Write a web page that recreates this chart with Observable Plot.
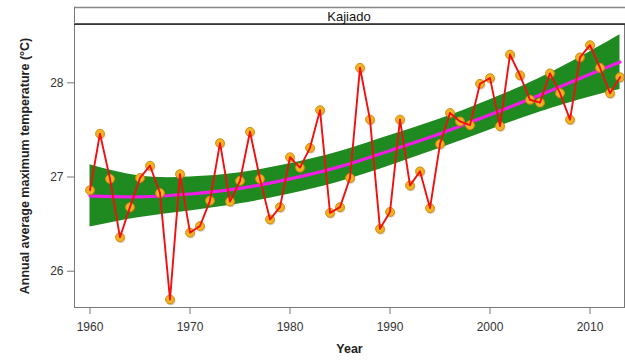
<!DOCTYPE html>
<html>
<head>
<meta charset="utf-8">
<script src="https://cdn.jsdelivr.net/npm/d3@7"></script>
<script src="https://cdn.jsdelivr.net/npm/@observablehq/plot@0.6"></script>
<style>
  html, body { margin: 0; padding: 0; background: #fff; }
  svg { display: block; }
</style>
</head>
<body>
<div id="chart"></div>
<script>
const panelTitle = "Kajiado";
const years = [1960,1961,1962,1963,1964,1965,1966,1967,1968,1969,
               1970,1971,1972,1973,1974,1975,1976,1977,1978,1979,
               1980,1981,1982,1983,1984,1985,1986,1987,1988,1989,
               1990,1991,1992,1993,1994,1995,1996,1997,1998,1999,
               2000,2001,2002,2003,2004,2005,2006,2007,2008,2009,
               2010,2011,2012,2013];
const tmax = [26.86,27.46,26.98,26.36,26.68,26.99,27.12,26.83,25.70,27.03,
              26.41,26.48,26.75,27.36,26.74,26.96,27.48,26.98,26.55,26.68,
              27.21,27.10,27.31,27.71,26.62,26.68,26.99,28.16,27.61,26.45,
              26.63,27.61,26.91,27.06,26.67,27.35,27.68,27.59,27.55,27.99,
              28.05,27.54,28.30,28.08,27.82,27.79,28.10,27.89,27.61,28.27,
              28.40,28.16,27.89,28.06];
const fitYears = [1960,1965,1970,1975,1980,1985,1990,1995,2000,2005,2010,2013];
const fitValue = [26.80,26.79,26.82,26.88,26.98,27.11,27.28,27.46,27.66,27.87,28.09,28.22];
const fitLower = [26.47,26.57,26.64,26.715,26.82,26.95,27.12,27.305,27.50,27.69,27.85,27.93];
const fitUpper = [27.13,27.01,27.00,27.045,27.14,27.27,27.44,27.615,27.82,28.05,28.33,28.51];
const xTicks = [1960,1970,1980,1990,2000,2010];
const yTicks = [26,27,28];

const obs = years.map((y, i) => ({year: y, t: tmax[i]}));
const fit = fitYears.map((y, i) => ({year: y, fit: fitValue[i], lo: fitLower[i], hi: fitUpper[i]}));

const W = 625, H = 361, mL = 74, mR = 1, mT = 24, mB = 54;

const chart = Plot.plot({
  width: W, height: H,
  marginLeft: mL, marginRight: mR, marginTop: mT, marginBottom: mB,
  style: {fontFamily: "'Liberation Sans', Arial, sans-serif", background: "#fff", overflow: "visible"},
  x: {domain: [1958.45, 2013.45], ticks: xTicks, tickFormat: d => String(d), label: null},
  y: {domain: [25.615, 28.619], ticks: yTicks, tickFormat: d => String(d), label: null},
  marks: [
    Plot.areaY(fit, {x: "year", y1: "lo", y2: "hi", fill: "#1f8a1f", curve: "natural"}),
    Plot.lineY(fit, {x: "year", y: "fit", stroke: "#ee1ee6", strokeWidth: 3.2, curve: "natural"}),
    Plot.dot(obs, {x: "year", y: "t", r: 4.6, fill: "#8a6a30", fillOpacity: 0.35, dx: 0.8, dy: 1.2}),
    Plot.dot(obs, {x: "year", y: "t", r: 4.4, fill: "#f3b323", stroke: "#d48a10", strokeWidth: 1}),
    Plot.lineY(obs, {x: "year", y: "t", stroke: "#f01010", strokeWidth: 1.9}),
    Plot.frame({stroke: "#777", strokeWidth: 1}),
    Plot.axisX({ticks: xTicks, tickFormat: d => String(d), tickSize: 7, tickPadding: 8, fontSize: 12, color: "#333", stroke: "#777", label: null}),
    Plot.axisY({ticks: yTicks, tickFormat: d => String(d), tickSize: 7, tickPadding: 4, fontSize: 12, color: "#333", stroke: "#777", label: null}),
    Plot.text(["Year"], {frameAnchor: "bottom", dy: 45, fontSize: 12.5, fontWeight: "bold", fill: "#222", textAnchor: "middle"}),
    Plot.text(["Annual average maximum temperature (°C)"], {frameAnchor: "left", dx: -50, rotate: -90, fontSize: 12.5, fontWeight: "bold", fill: "#222", textAnchor: "middle"})
  ]
});

// facet strip above the panel
const svg = d3.select(chart);
const strip = svg.append("g");
strip.append("rect")
  .attr("x", mL).attr("y", 7).attr("width", W - mL - mR).attr("height", mT - 7)
  .attr("fill", "#fff").attr("stroke", "none");
strip.append("line").attr("x1", mL).attr("x2", W).attr("y1", 7.5).attr("y2", 7.5)
  .attr("stroke", "#888").attr("stroke-width", 1.6);
strip.append("line").attr("x1", mL).attr("x2", W).attr("y1", mT).attr("y2", mT)
  .attr("stroke", "#222").attr("stroke-width", 1.4);
strip.append("line").attr("x1", mL + 0.5).attr("x2", mL + 0.5).attr("y1", 7).attr("y2", mT)
  .attr("stroke", "#777").attr("stroke-width", 1);
strip.append("text")
  .attr("x", mL + (W - mL - mR) / 2).attr("y", 16)
  .attr("text-anchor", "middle").attr("dominant-baseline", "central")
  .attr("font-family", "'Liberation Sans', Arial, sans-serif")
  .attr("font-size", 13).attr("fill", "#111")
  .text(panelTitle);

document.getElementById("chart").appendChild(chart);
</script>
</body>
</html>
